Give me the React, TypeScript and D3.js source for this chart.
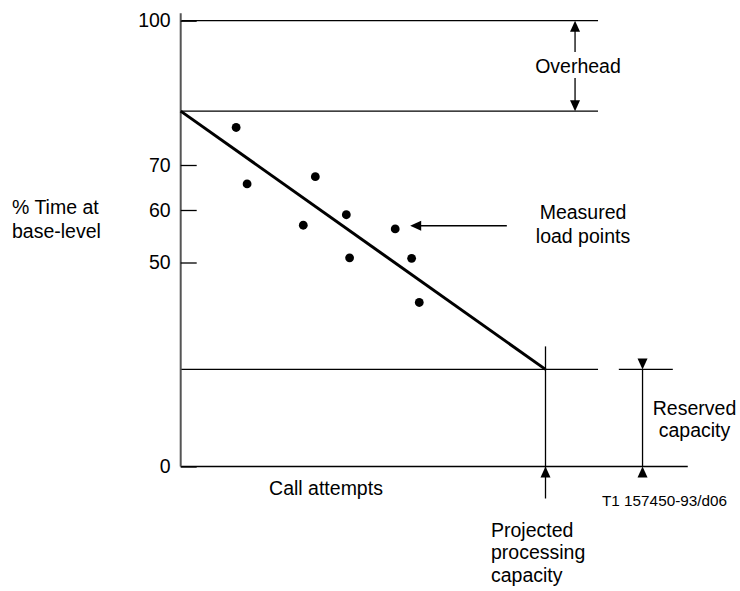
import React, { useEffect, useRef } from "react";
import * as d3 from "d3";

// y is a schematic scale: tick labels are not evenly spaced in the original
const yTicks = [0, 50, 60, 70, 100];
// x is "call attempts" in arbitrary units, 100 = projected processing capacity
const loadX = [15.2, 18.2, 36.9, 33.6, 45.4, 46.3, 58.8, 63.3, 65.4];
const loadY = [77.8, 65.8, 67.4, 57.1, 59.1, 50.9, 56.4, 50.8, 40.2];
const overheadLevel = 81.2;
const reservedLevel = 23.8;
const projectedCapacity = 100;

const W = 740;
const H = 591;
const FONT = "'Liberation Sans', Arial, Helvetica, sans-serif";

export default function App() {
  const ref = useRef<SVGSVGElement>(null);

  useEffect(() => {
    const svg = d3.select(ref.current);
    svg.selectAll("*").remove();

    const x = d3.scaleLinear().domain([0, projectedCapacity]).range([180.7, 545.5]);
    const y = d3.scaleLinear().domain(yTicks).range([466.5, 262.5, 210, 165, 20.7]);

    const line = (x1: number, y1: number, x2: number, y2: number, w = 1.3, c = "#000") =>
      svg.append("line")
        .attr("x1", x1).attr("y1", y1).attr("x2", x2).attr("y2", y2)
        .attr("stroke", c).attr("stroke-width", w);

    // arrowhead with its tip at (tx, ty); dir: "up" | "down" | "left"
    const head = (tx: number, ty: number, dir: string) => {
      const L = 11, hw = 5;
      let p = "";
      if (dir === "up") p = `M${tx},${ty}L${tx - hw},${ty + L}L${tx + hw},${ty + L}Z`;
      if (dir === "down") p = `M${tx},${ty}L${tx - hw},${ty - L}L${tx + hw},${ty - L}Z`;
      if (dir === "left") p = `M${tx},${ty}L${tx + L},${ty - hw}L${tx + L},${ty + hw}Z`;
      svg.append("path").attr("d", p).attr("fill", "#000");
    };

    const text = (s: string, tx: number, ty: number, anchor = "start", size = 19.5) =>
      svg.append("text")
        .attr("x", tx).attr("y", ty)
        .attr("text-anchor", anchor)
        .attr("font-family", FONT)
        .attr("font-size", size)
        .attr("fill", "#000")
        .text(s);

    // horizontal reference lines
    line(x(0), y(100), x(114.4), y(100));
    line(x(0), y(overheadLevel), x(114.4), y(overheadLevel));
    line(x(0), y(reservedLevel), x(114.4), y(reservedLevel));
    line(x(120.1), y(reservedLevel), x(134.9), y(reservedLevel));
    line(x(0), y(0), x(139), y(0), 1.5);

    // y axis
    line(x(0), y(100) - 7.5, x(0), y(0), 2, "#555");
    const axis = svg.append("g")
      .attr("transform", `translate(${x(0)},0)`)
      .call(d3.axisLeft(y).tickValues(yTicks).tickSize(-16).tickSizeOuter(0).tickPadding(10));
    axis.select(".domain").remove();
    axis.selectAll(".tick line").attr("stroke", "#000").attr("stroke-width", 1.3);
    axis.selectAll(".tick text")
      .attr("font-family", FONT)
      .attr("font-size", 19.5)
      .attr("fill", "#000");

    // fitted load line
    svg.append("path")
      .datum([[0, overheadLevel], [projectedCapacity, reservedLevel]])
      .attr("d", d3.line<number[]>().x(d => x(d[0])).y(d => y(d[1])))
      .attr("fill", "none")
      .attr("stroke", "#000")
      .attr("stroke-width", 3);

    // measured points
    svg.selectAll("circle.pt")
      .data(loadX.map((v, i) => [v, loadY[i]]))
      .enter()
      .append("circle")
      .attr("class", "pt")
      .attr("cx", d => x(d[0]))
      .attr("cy", d => y(d[1]))
      .attr("r", 4.4)
      .attr("fill", "#000");

    // overhead dimension
    const ox = x(108.1);
    head(ox, y(100), "up");
    line(ox, y(100) + 10, ox, 52);
    line(ox, 78, ox, y(overheadLevel) - 10);
    head(ox, y(overheadLevel), "down");
    text("Overhead", 578, 73, "middle");

    // measured load points pointer
    line(x(89.4), y(57), x(62.9) + 8, y(57));
    head(x(62.9), y(57), "left");
    text("Measured", 583, 219, "middle");
    text("load points", 583, 243, "middle");

    // projected processing capacity
    const px = x(projectedCapacity);
    line(px, y(reservedLevel) - 23, px, y(0) + 32);
    head(px, y(0), "up");
    text("Projected", 491, 537);
    text("processing", 491, 559);
    text("capacity", 491, 581.5);

    // reserved capacity
    const rx = x(126.6);
    head(rx, y(reservedLevel), "down");
    line(rx, y(reservedLevel), rx, y(0));
    head(rx, y(0), "up");
    text("Reserved", 694.5, 415, "middle");
    text("capacity", 694.5, 437, "middle");

    // y title
    text("% Time at", 12, 214);
    text("base-level", 12, 238);

    // x title
    text("Call attempts", 326, 495, "middle");

    text("T1 157450-93/d06", 602, 505.5, "start", 15.3);
  }, []);

  return (
    <svg
      ref={ref}
      width={W}
      height={H}
      style={{ position: "absolute", left: 0, top: 0, background: "#fff" }}
    />
  );
}
